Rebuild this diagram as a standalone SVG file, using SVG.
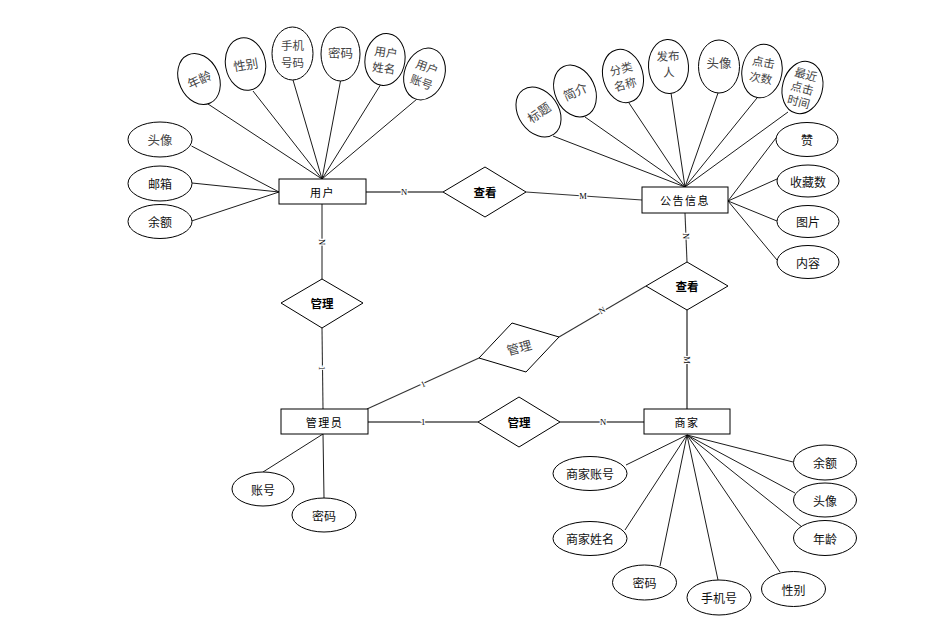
<svg xmlns="http://www.w3.org/2000/svg" width="926" height="622" viewBox="0 0 926 622">
<style>
.bg{fill:#fff}
.ent{fill:#fff;stroke:#000;stroke-width:1}
.att{fill:#fff;stroke:#000;stroke-width:1}
.rel{fill:#fff;stroke:#000;stroke-width:1}
.ln{stroke:#000;stroke-width:0.9;fill:none}
.lg{stroke:#7a7a7a;stroke-width:2;fill:none}
.ld{stroke:#333;stroke-width:1.1;fill:none}
text{font-family:"Noto Sans CJK SC","Liberation Sans",sans-serif;text-anchor:middle;dominant-baseline:central}
.t{font-size:12px;fill:#111}
.tg{font-size:12.5px;fill:#444}
.tm{font-size:11.5px;fill:#444}
.te{font-size:11px;fill:#000;letter-spacing:1.5px}
.tr{font-size:11.5px;fill:#000;font-weight:bold}
.lb{font-family:"Liberation Serif",serif;font-size:8.5px;fill:#000;stroke:#fff;stroke-width:2.5px;paint-order:stroke}
</style>
<rect class="bg" x="0" y="0" width="926" height="622"/>
<g id="connectors">
<line class="ln" x1="208" y1="104" x2="322" y2="179"/>
<line class="ln" x1="253" y1="91" x2="322" y2="179"/>
<line class="ln" x1="293" y1="80" x2="322" y2="179"/>
<line class="ln" x1="340.5" y1="81" x2="322" y2="179"/>
<line class="ln" x1="381" y1="84" x2="322" y2="179"/>
<line class="ln" x1="417" y1="99" x2="322" y2="179"/>
<line class="ln" x1="191.5" y1="146" x2="279" y2="192"/>
<line class="ln" x1="192" y1="183" x2="279" y2="192"/>
<line class="ln" x1="191.5" y1="221" x2="279" y2="192"/>
<line class="ln" x1="553" y1="136" x2="685" y2="187"/>
<line class="ln" x1="585" y1="117" x2="685" y2="187"/>
<line class="ln" x1="629" y1="103" x2="685" y2="187"/>
<line class="ln" x1="671" y1="93" x2="685" y2="187"/>
<line class="ln" x1="718" y1="93" x2="685" y2="187"/>
<line class="ln" x1="757" y1="98" x2="685" y2="187"/>
<line class="ln" x1="788" y1="112" x2="685" y2="187"/>
<line class="ln" x1="776" y1="138" x2="728" y2="201"/>
<line class="ln" x1="777" y1="179" x2="728" y2="201"/>
<line class="ln" x1="777" y1="221" x2="728" y2="201"/>
<line class="ln" x1="777" y1="260" x2="728" y2="201"/>
<line class="ln" x1="323" y1="434" x2="263" y2="472"/>
<line class="ln" x1="323" y1="434" x2="324" y2="498"/>
<line class="ln" x1="687" y1="435" x2="626" y2="465"/>
<line class="ln" x1="687" y1="435" x2="625" y2="530"/>
<line class="ln" x1="687" y1="435" x2="660" y2="566"/>
<line class="ln" x1="687" y1="435" x2="718" y2="580"/>
<line class="ln" x1="687" y1="435" x2="780" y2="572"/>
<line class="ln" x1="687" y1="435" x2="793" y2="462"/>
<line class="ln" x1="687" y1="435" x2="795" y2="493"/>
<line class="ln" x1="687" y1="435" x2="802" y2="527"/>
<line class="lg" x1="366" y1="192" x2="443" y2="192"/>
<line class="ld" x1="526" y1="192" x2="642" y2="200"/>
<line class="ld" x1="685" y1="213" x2="687" y2="262"/>
<line class="ln" x1="322" y1="204" x2="322" y2="279"/>
<line class="ld" x1="322" y1="328" x2="323" y2="409"/>
<line class="ld" x1="367" y1="409" x2="479" y2="358"/>
<line class="ld" x1="559" y1="337" x2="646" y2="286"/>
<line class="lg" x1="687" y1="310" x2="687" y2="409"/>
<line class="lg" x1="368" y1="422" x2="478" y2="422"/>
<line class="lg" x1="560" y1="422" x2="644" y2="422"/>
<text class="lb" x="404" y="192">N</text>
<text class="lb" x="583" y="196" fill="#555">M</text>
<text class="lb" transform="translate(686,236) rotate(90)">N</text>
<text class="lb" transform="translate(322,242) rotate(90)">N</text>
<text class="lb" transform="translate(322,368) rotate(90)">1</text>
<text class="lb" transform="translate(423,384) rotate(-24)">1</text>
<text class="lb" transform="translate(602,310) rotate(-30)">N</text>
<text class="lb" transform="translate(687,360) rotate(90)">M</text>
<text class="lb" x="423" y="422">1</text>
<text class="lb" x="603" y="422">N</text>
</g>
<g id="user"><rect class="ent" x="279" y="179" width="87" height="25"/><text class="te" x="322.5" y="191.5">用户</text></g>
<g id="notice"><rect class="ent" x="642" y="187" width="86" height="26"/><text class="te" x="685" y="200">公告信息</text></g>
<g id="admin"><rect class="ent" x="281" y="409" width="87" height="25"/><text class="te" x="324.5" y="421.5">管理员</text></g>
<g id="merchant"><rect class="ent" x="644" y="409" width="86" height="25"/><text class="te" x="687" y="421.5">商家</text></g>
<g id="rel-view1"><polygon class="rel" points="443,192 485,167 526,192 485,217"/><text class="tr" x="485" y="192">查看</text></g>
<g id="rel-manage1"><polygon class="rel" points="281,303 322,279 363,303 322,328"/><text class="tr" x="322" y="303">管理</text></g>
<g id="rel-manage2"><polygon class="rel" points="512,323 559,337 526,372 479,358"/><text class="tg" transform="translate(519,347) rotate(-15)">管理</text></g>
<g id="rel-view2"><polygon class="rel" points="646,286 687,262 728,286 687,310"/><text class="tr" x="687" y="286">查看</text></g>
<g id="rel-manage3"><polygon class="rel" points="478,422 519,397 560,422 519,447"/><text class="tr" x="519" y="422">管理</text></g>
<g id="u-age" transform="translate(199,79) rotate(-25)"><ellipse class="att" cx="0" cy="0" rx="20" ry="26.5"/><text class="tg" x="0" y="0">年龄</text></g>
<g id="u-sex" transform="translate(245.5,64) rotate(-10)"><ellipse class="att" cx="0" cy="0" rx="20" ry="26.5"/><text class="tg" x="0" y="0">性别</text></g>
<g id="u-phone" transform="translate(292.5,53.5)"><ellipse class="att" cx="0" cy="0" rx="20.5" ry="26.5"/><text class="tm"><tspan x="0" y="-8.5">手机</tspan><tspan x="0" y="8.5">号码</tspan></text></g>
<g id="u-pwd" transform="translate(340.5,54)"><ellipse class="att" cx="0" cy="0" rx="19.5" ry="27"/><text class="tg" x="0" y="-2">密码</text></g>
<g id="u-name" transform="translate(385,59.5) rotate(8)"><ellipse class="att" cx="0" cy="0" rx="20" ry="26"/><text class="tm"><tspan x="0" y="-8">用户</tspan><tspan x="0" y="8">姓名</tspan></text></g>
<g id="u-account" transform="translate(424.5,74) rotate(20)"><ellipse class="att" cx="0" cy="0" rx="20" ry="26.5"/><text class="tm"><tspan x="0" y="-8">用户</tspan><tspan x="0" y="8">账号</tspan></text></g>
<g id="u-avatar"><ellipse class="att" cx="160" cy="139.5" rx="32" ry="17.5"/><text class="tg" x="160" y="139.5">头像</text></g>
<g id="u-email"><ellipse class="att" cx="160" cy="183.5" rx="32" ry="17.5"/><text class="t" x="160" y="183.5">邮箱</text></g>
<g id="u-balance"><ellipse class="att" cx="160" cy="221.5" rx="32" ry="17"/><text class="t" x="160" y="221.5">余额</text></g>
<g id="n-title" transform="translate(538.5,112) rotate(-35)"><ellipse class="att" cx="0" cy="0" rx="20" ry="27"/><text class="tg" x="0" y="0">标题</text></g>
<g id="n-intro" transform="translate(575,91) rotate(-25)"><ellipse class="att" cx="0" cy="0" rx="20" ry="27"/><text class="tg" x="0" y="0">简介</text></g>
<g id="n-cat" transform="translate(623,76) rotate(-15)"><ellipse class="att" cx="0" cy="0" rx="20" ry="27"/><text class="tm"><tspan x="0" y="-8">分类</tspan><tspan x="0" y="8">名称</tspan></text></g>
<g id="n-pub" transform="translate(668.5,66.5) rotate(-3)"><ellipse class="att" cx="0" cy="0" rx="20" ry="27"/><text class="tm"><tspan x="0" y="-11">发布</tspan><tspan x="0" y="5">人</tspan></text></g>
<g id="n-avatar" transform="translate(719,66.5)"><ellipse class="att" cx="0" cy="0" rx="20.5" ry="26.5"/><text class="tg" x="0" y="-4">头像</text></g>
<g id="n-clicks" transform="translate(762,71) rotate(10)"><ellipse class="att" cx="0" cy="0" rx="20" ry="27"/><text class="tm"><tspan x="0" y="-9.5">点击</tspan><tspan x="0" y="6.5">次数</tspan></text></g>
<g id="n-lasttime" transform="translate(802.5,87.5) rotate(15)"><ellipse class="att" cx="0" cy="0" rx="20" ry="26.5"/><text class="tm"><tspan x="0" y="-14">最近</tspan><tspan x="0" y="0">点击</tspan><tspan x="0" y="14">时间</tspan></text></g>
<g id="n-like"><ellipse class="att" cx="807" cy="139.5" rx="31" ry="17"/><text class="t" x="807" y="139.5">赞</text></g>
<g id="n-fav"><ellipse class="att" cx="808" cy="181" rx="31" ry="16"/><text class="t" x="808" y="181">收藏数</text></g>
<g id="n-pic"><ellipse class="att" cx="808" cy="221.5" rx="31" ry="16"/><text class="t" x="808" y="221.5">图片</text></g>
<g id="n-content"><ellipse class="att" cx="808" cy="262" rx="31" ry="16.5"/><text class="t" x="808" y="262">内容</text></g>
<g id="a-account"><ellipse class="att" cx="263" cy="489" rx="31" ry="17"/><text class="t" x="263" y="489">账号</text></g>
<g id="a-pwd"><ellipse class="att" cx="324" cy="515" rx="32" ry="17"/><text class="t" x="324" y="515">密码</text></g>
<g id="m-account"><ellipse class="att" cx="590" cy="473.5" rx="37" ry="17"/><text class="t" x="590" y="473.5">商家账号</text></g>
<g id="m-name"><ellipse class="att" cx="590" cy="538.5" rx="37" ry="17"/><text class="t" x="590" y="538.5">商家姓名</text></g>
<g id="m-pwd"><ellipse class="att" cx="644.5" cy="582.5" rx="32" ry="17.5"/><text class="t" x="644.5" y="582.5">密码</text></g>
<g id="m-phone"><ellipse class="att" cx="719" cy="597.5" rx="32" ry="17.5"/><text class="t" x="719" y="597.5">手机号</text></g>
<g id="m-sex"><ellipse class="att" cx="793.5" cy="589" rx="32" ry="17.5"/><text class="t" x="793.5" y="589">性别</text></g>
<g id="m-balance"><ellipse class="att" cx="825" cy="462.5" rx="31.5" ry="17.5"/><text class="t" x="825" y="462.5">余额</text></g>
<g id="m-avatar"><ellipse class="att" cx="825" cy="500" rx="31.5" ry="17"/><text class="t" x="825" y="500">头像</text></g>
<g id="m-age"><ellipse class="att" cx="825" cy="538" rx="31.5" ry="17.5"/><text class="t" x="825" y="538">年龄</text></g>
</svg>
